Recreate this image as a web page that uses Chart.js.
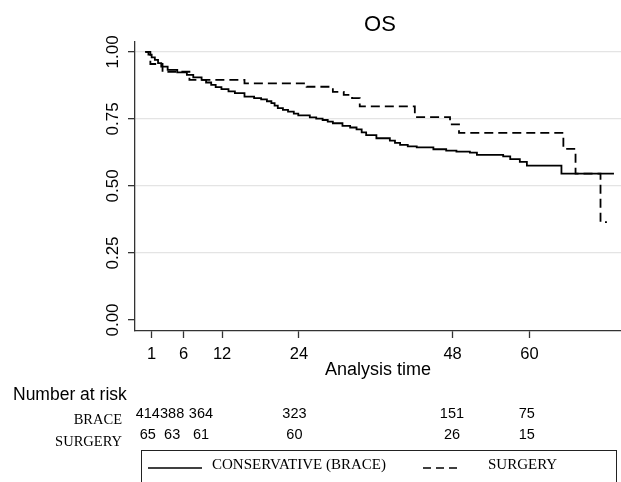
<!DOCTYPE html>
<html>
<head>
<meta charset="utf-8">
<script src="https://cdn.jsdelivr.net/npm/chart.js@4"></script>
<style>
  body { margin: 0; background: #fff; }
</style>
</head>
<body>
<canvas id="osChart" width="621" height="482"></canvas>
<script>
// Kaplan-Meier steps (months, survival)
const braceTime = [0, 0.5, 1, 1.5, 2, 2.5, 3.5, 5, 6.5, 7.5, 8.8, 9.5, 10.3, 11, 11.9, 13, 14, 15.5, 17, 18.1,
  19, 19.7, 20.2, 20.7, 21.5, 22.3, 23.2, 23.9, 25.7, 26.7, 27.7, 28.5, 29.3, 30.8, 32, 33, 33.8, 34.5, 36.1,
  38.2, 39, 39.8, 41, 42.4, 45, 47, 48.6, 50.7, 51.8, 55.9, 57, 58.5, 59.6, 65, 73.2];
const braceSurv = [1, 0.99, 0.98, 0.97, 0.958, 0.945, 0.933, 0.924, 0.914, 0.905, 0.896, 0.886, 0.877, 0.869,
  0.861, 0.853, 0.846, 0.833, 0.828, 0.823, 0.816, 0.809, 0.8, 0.79, 0.784, 0.777, 0.77, 0.763, 0.756, 0.751,
  0.746, 0.74, 0.734, 0.724, 0.718, 0.711, 0.7, 0.69, 0.678, 0.669, 0.661, 0.653, 0.648, 0.644, 0.637, 0.632,
  0.628, 0.624, 0.616, 0.61, 0.6, 0.59, 0.576, 0.546, 0.546];
const surgeryTime = [0, 0.8, 2.7, 6.9, 15.5, 25.2, 29.3, 31, 32.3, 33.5, 42.1, 47.6, 49, 65.3, 67.2, 71.1, 72.1];
const surgerySurv = [1, 0.955, 0.926, 0.896, 0.883, 0.87, 0.851, 0.84, 0.828, 0.797, 0.757, 0.73, 0.698, 0.638,
  0.546, 0.365, 0.365];

const xTicks = [1, 6, 12, 24, 48, 60];
const yTicks = [0, 0.25, 0.5, 0.75, 1];
const riskGroups = ["BRACE", "SURGERY"];
const riskBrace = [414, 388, 364, 323, 151, 75];
const riskSurgery = [65, 63, 61, 60, 26, 15];
const legendLabels = ["CONSERVATIVE (BRACE)", "SURGERY"];

const SANS = "'Liberation Sans', Arial, sans-serif";
const SERIF = "'Liberation Serif', 'Times New Roman', serif";

function toPoints(times, surv) {
  return times.map((t, i) => ({ x: t, y: surv[i] }));
}

// title, rotated y labels, risk table and legend box
const extras = {
  id: "extras",
  afterDraw(chart) {
    const ctx = chart.ctx;
    const xs = chart.scales.x;
    const ys = chart.scales.y;
    const area = chart.chartArea;
    ctx.save();
    ctx.fillStyle = "#000";
    ctx.textBaseline = "middle";

    ctx.font = "22px " + SANS;
    ctx.textAlign = "center";
    ctx.fillText("OS", (area.left + area.right) / 2 + 2, 25);

    ctx.font = "17px " + SANS;
    yTicks.forEach((v) => {
      ctx.save();
      ctx.translate(113, ys.getPixelForValue(v));
      ctx.rotate(-Math.PI / 2);
      ctx.fillText(v.toFixed(2), 0, 0);
      ctx.restore();
    });

    // number at risk
    ctx.textAlign = "left";
    ctx.font = "17.5px " + SANS;
    ctx.fillText("Number at risk", 13, 395);

    const riskAt = [0.4, 4.2, 8.7, 23.3, 47.9, 59.6];
    ctx.textAlign = "center";
    ctx.font = "14.5px " + SANS;
    riskBrace.forEach((n, i) => ctx.fillText(String(n), xs.getPixelForValue(riskAt[i]), 414));
    riskSurgery.forEach((n, i) => ctx.fillText(String(n), xs.getPixelForValue(riskAt[i]), 435));

    ctx.textAlign = "right";
    ctx.font = "14.5px " + SERIF;
    ctx.fillText(riskGroups[0], 122, 420);
    ctx.fillText(riskGroups[1], 122, 442);

    // legend
    ctx.strokeStyle = "#222";
    ctx.lineWidth = 1;
    ctx.strokeRect(141.5, 450.5, 475, 45);
    ctx.strokeStyle = "#000";
    ctx.lineWidth = 1.6;
    ctx.beginPath();
    ctx.moveTo(148, 468);
    ctx.lineTo(202, 468);
    ctx.stroke();
    ctx.setLineDash([8, 5]);
    ctx.beginPath();
    ctx.moveTo(423, 468);
    ctx.lineTo(457, 468);
    ctx.stroke();
    ctx.setLineDash([]);
    ctx.textAlign = "left";
    ctx.font = "15px " + SERIF;
    ctx.fillText(legendLabels[0], 212, 465);
    ctx.fillText(legendLabels[1], 488, 465);
    ctx.restore();
  },
};

new Chart(document.getElementById("osChart"), {
  type: "line",
  data: {
    datasets: [
      {
        label: legendLabels[0],
        data: toPoints(braceTime, braceSurv),
        borderColor: "#000",
        borderWidth: 1.8,
        stepped: "before",
        pointRadius: 0,
        fill: false,
      },
      {
        label: legendLabels[1],
        data: toPoints(surgeryTime, surgerySurv),
        borderColor: "#000",
        borderWidth: 1.8,
        borderDash: [9, 5],
        stepped: "before",
        pointRadius: 0,
        fill: false,
      },
    ],
  },
  options: {
    responsive: false,
    animation: false,
    devicePixelRatio: 1,
    layout: { padding: { left: 128, right: 0, top: 42, bottom: 101.2 } },
    plugins: {
      legend: { display: false },
      tooltip: { enabled: false },
    },
    scales: {
      x: {
        type: "linear",
        min: -1.6,
        max: 74.3,
        afterBuildTicks: (scale) => {
          scale.ticks = xTicks.map((v) => ({ value: v }));
        },
        afterFit: (scale) => {
          scale.height = 49.8;
        },
        grid: { drawOnChartArea: false, drawTicks: true, tickLength: 7, tickColor: "#333", tickWidth: 1.3 },
        border: { color: "#333", width: 1.3 },
        ticks: {
          color: "#000",
          font: { family: SANS, size: 16.5 },
          padding: 7,
          maxRotation: 0,
          autoSkip: false,
        },
        title: {
          display: true,
          text: "Analysis time",
          color: "#000",
          font: { family: SANS, size: 18 },
          padding: 0,
        },
      },
      y: {
        type: "linear",
        min: -0.041,
        max: 1.037,
        afterBuildTicks: (scale) => {
          scale.ticks = yTicks.map((v) => ({ value: v }));
        },
        afterFit: (scale) => {
          scale.width = 7;
        },
        grid: {
          color: (c) => (c.tick && c.tick.value === 0 ? "rgba(0,0,0,0)" : "#e4e4e4"),
          lineWidth: 1.3,
          tickColor: "#333",
          tickLength: 7,
          tickWidth: 1.3,
        },
        border: { color: "#333", width: 1.3 },
        ticks: { display: false },
      },
    },
  },
  plugins: [extras],
});
</script>
</body>
</html>
